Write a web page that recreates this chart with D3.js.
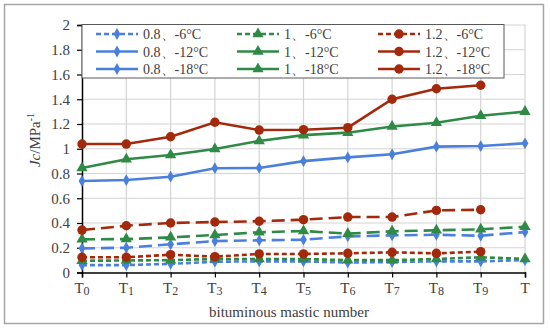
<!DOCTYPE html>
<html>
<head>
<meta charset="utf-8">
<script src="https://cdn.jsdelivr.net/npm/d3@7"></script>
<style>
  body { margin: 0; background: #fff; }
  svg text { font-family: "Liberation Serif", "Times New Roman", serif; fill: #404040; }
</style>
</head>
<body>
<svg id="chart" width="550" height="329"></svg>
<script>
const categories = ["T0", "T1", "T2", "T3", "T4", "T5", "T6", "T7", "T8", "T9", "T"];
const yTicks = [0, 0.2, 0.4, 0.6, 0.8, 1, 1.2, 1.4, 1.6, 1.8, 2];

// ratio 0.8
const r08_6 = [0.06, 0.06, 0.07, 0.087, 0.09, 0.09, 0.08, 0.085, 0.09, 0.09, 0.10];
const r08_12 = [0.195, 0.20, 0.228, 0.254, 0.26, 0.265, 0.292, 0.30, 0.305, 0.297, 0.327];
const r08_18 = [0.739, 0.747, 0.774, 0.843, 0.845, 0.90, 0.93, 0.955, 1.017, 1.022, 1.044];
// ratio 1
const r10_6 = [0.095, 0.097, 0.10, 0.109, 0.109, 0.109, 0.10, 0.10, 0.109, 0.123, 0.11];
const r10_12 = [0.268, 0.27, 0.284, 0.303, 0.325, 0.335, 0.314, 0.333, 0.341, 0.349, 0.37];
const r10_18 = [0.845, 0.915, 0.95, 0.998, 1.063, 1.11, 1.13, 1.18, 1.21, 1.267, 1.30];
// ratio 1.2 (no value at T)
const r12_6 = [0.123, 0.123, 0.144, 0.128, 0.15, 0.15, 0.155, 0.163, 0.155, 0.168, null];
const r12_12 = [0.343, 0.378, 0.40, 0.408, 0.414, 0.427, 0.448, 0.448, 0.502, 0.507, null];
const r12_18 = [1.038, 1.038, 1.097, 1.214, 1.151, 1.154, 1.17, 1.40, 1.485, 1.513, null];

const blue = "#4a80dc", green = "#2f8a45", red = "#a3290c";
const dashShort = "5,3", dashLong = "13,6", solid = null;

const series = [
  { name: "0.8、-6°C", values: r08_6, color: blue, dash: dashShort, marker: "diamond" },
  { name: "0.8、-12°C", values: r08_12, color: blue, dash: dashLong, marker: "diamond" },
  { name: "0.8、-18°C", values: r08_18, color: blue, dash: solid, marker: "diamond" },
  { name: "1、-6°C", values: r10_6, color: green, dash: dashShort, marker: "triangle" },
  { name: "1、-12°C", values: r10_12, color: green, dash: dashLong, marker: "triangle" },
  { name: "1、-18°C", values: r10_18, color: green, dash: solid, marker: "triangle" },
  { name: "1.2、-6°C", values: r12_6, color: red, dash: dashShort, marker: "circle" },
  { name: "1.2、-12°C", values: r12_12, color: red, dash: dashLong, marker: "circle" },
  { name: "1.2、-18°C", values: r12_18, color: red, dash: solid, marker: "circle" }
];

const svg = d3.select("#chart");
const plotLeft = 82, plotRight = 525, plotTop = 25, plotBottom = 272.5;

// outer frame
svg.append("rect")
  .attr("x", 4.5).attr("y", 4.5).attr("width", 539).attr("height", 319)
  .attr("fill", "#fff").attr("stroke", "#a6a6a6").attr("stroke-width", 1.5);

const x = d3.scalePoint().domain(categories).range([plotLeft, plotRight]).padding(0);
const y = d3.scaleLinear().domain([0, 2]).range([plotBottom, plotTop]);

// gridlines
svg.append("g").selectAll("line").data(yTicks.slice(1)).join("line")
  .attr("x1", plotLeft).attr("x2", plotRight)
  .attr("y1", d => y(d)).attr("y2", d => y(d))
  .attr("stroke", "#d4d4d4").attr("stroke-width", 1.2);
svg.append("g").selectAll("line").data(categories.slice(1)).join("line")
  .attr("x1", d => x(d)).attr("x2", d => x(d))
  .attr("y1", plotTop).attr("y2", plotBottom)
  .attr("stroke", "#d4d4d4").attr("stroke-width", 1.2);

// axes
const yAxis = svg.append("g")
  .attr("transform", `translate(${plotLeft},0)`)
  .call(d3.axisLeft(y).tickValues(yTicks).tickSize(5).tickPadding(7).tickFormat(d => String(+d.toFixed(1))));
yAxis.select(".domain").attr("stroke", "#000").attr("stroke-width", 1.5);
yAxis.selectAll(".tick line").attr("stroke", "#000").attr("stroke-width", 1.2);
yAxis.selectAll("text").attr("font-size", 15).attr("fill", "#404040");

const xAxis = svg.append("g")
  .attr("transform", `translate(0,${plotBottom})`)
  .call(d3.axisBottom(x).tickSize(5).tickPadding(6).tickFormat(""));
xAxis.select(".domain").attr("stroke", "#000").attr("stroke-width", 1.5);
xAxis.selectAll(".tick line").attr("stroke", "#000").attr("stroke-width", 1.2);

// x tick labels: T with lowered digit
const xl = svg.append("g").selectAll("text").data(categories).join("text")
  .attr("x", d => x(d)).attr("y", 293)
  .attr("text-anchor", "middle").attr("font-size", 15);
xl.append("tspan").text("T");
xl.filter(d => d.length > 1).append("tspan")
  .attr("font-size", 12).attr("dy", 1.5).text(d => d.slice(1));

// axis titles
svg.append("text")
  .attr("x", 289).attr("y", 317).attr("text-anchor", "middle")
  .attr("font-size", 15).text("bituminous mastic number");

const yt = svg.append("text")
  .attr("transform", "translate(40,140) rotate(-90)")
  .attr("text-anchor", "middle").attr("font-size", 15);
yt.append("tspan").attr("font-style", "italic").text("Jc");
yt.append("tspan").text("/MPa");
yt.append("tspan").attr("font-size", 10).attr("dy", -6).text("-1");

// marker shapes
function markerPath(type) {
  if (type === "circle") return d3.symbol(d3.symbolCircle, 70)();
  if (type === "triangle") return d3.symbol(d3.symbolTriangle, 55)();
  return d3.symbol(d3.symbolDiamond, 40)();
}

const line = d3.line()
  .defined(d => d.v != null)
  .x(d => x(d.c)).y(d => y(d.v));

const plot = svg.append("g");
series.forEach(s => {
  const pts = categories.map((c, i) => ({ c, v: s.values[i] })).filter(d => d.v != null);
  plot.append("path")
    .datum(pts)
    .attr("d", line)
    .attr("fill", "none")
    .attr("stroke", s.color)
    .attr("stroke-width", 2.6)
    .attr("stroke-dasharray", s.dash);
  plot.append("g").selectAll("path").data(pts).join("path")
    .attr("transform", d => `translate(${x(d.c)},${y(d.v)})`)
    .attr("d", markerPath(s.marker))
    .attr("fill", s.color);
});

// legend
const lg = svg.append("g");
lg.append("rect")
  .attr("x", plotLeft).attr("y", 24.5).attr("width", 422).attr("height", 53.5)
  .attr("fill", "#fff").attr("stroke", "#595959").attr("stroke-width", 1);
const colX = [96, 237, 378];
const rowY = [34, 51.5, 69];
series.forEach((s, i) => {
  const cx = colX[Math.floor(i / 3)], cy = rowY[i % 3];
  lg.append("line")
    .attr("x1", cx).attr("x2", cx + 42).attr("y1", cy).attr("y2", cy)
    .attr("stroke", s.color).attr("stroke-width", 2.6)
    .attr("stroke-dasharray", s.dash === dashShort ? "5,3" : null);
  lg.append("path")
    .attr("transform", `translate(${cx + 21},${cy})`)
    .attr("d", markerPath(s.marker)).attr("fill", s.color);
  lg.append("text")
    .attr("x", cx + 47).attr("y", cy + 5)
    .attr("font-size", 14).text(s.name);
});
</script>
</body>
</html>
